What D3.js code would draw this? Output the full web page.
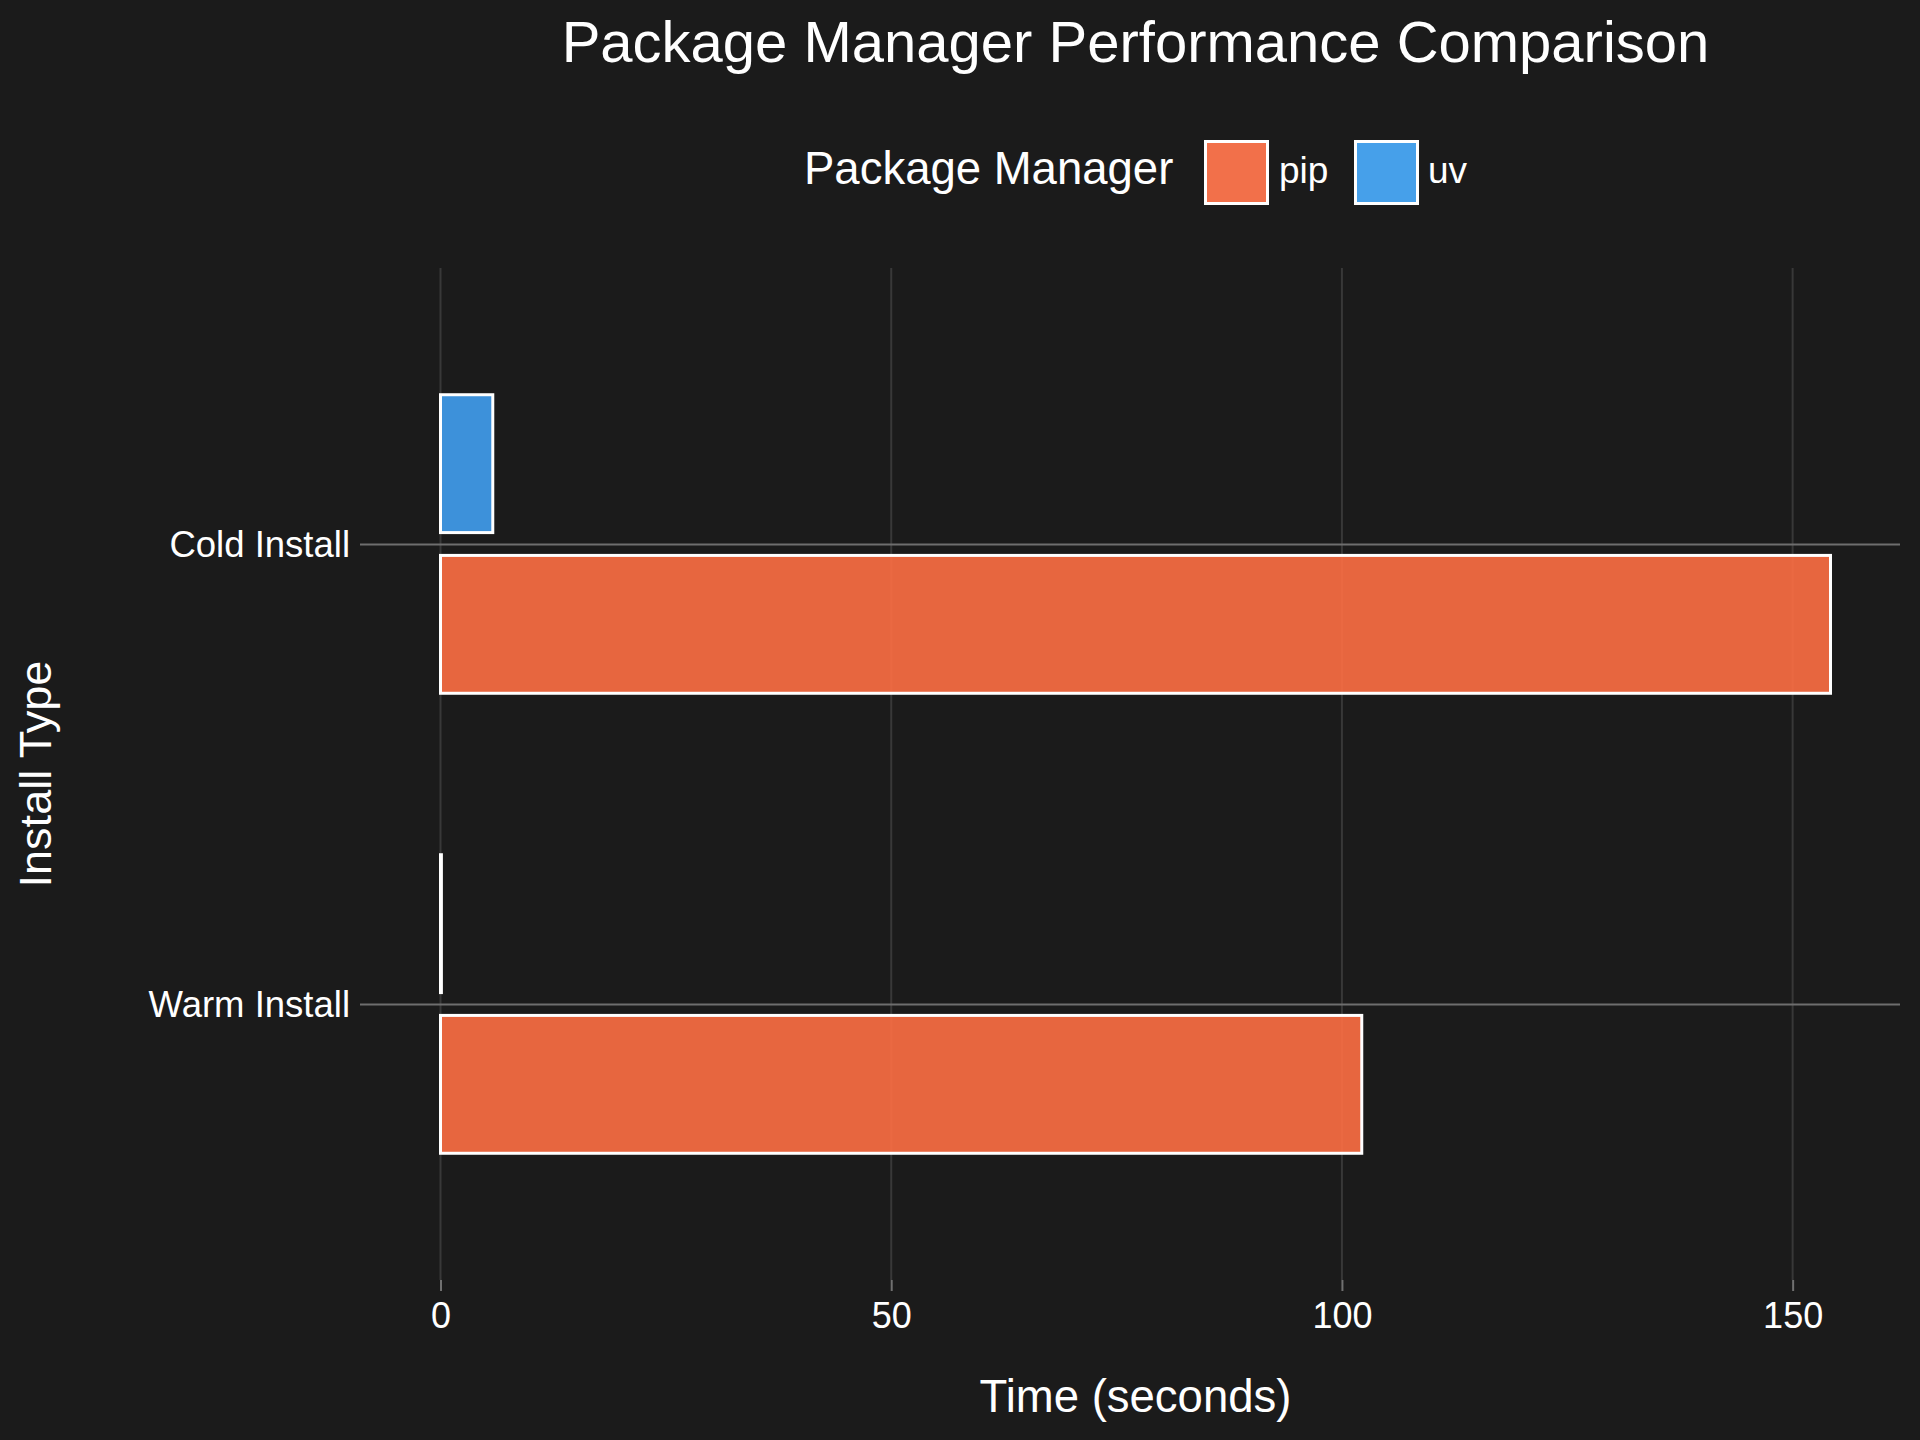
<!DOCTYPE html>
<html>
<head>
<meta charset="utf-8">
<script src="https://cdn.jsdelivr.net/npm/d3@7"></script>
<style>
  html, body { margin: 0; padding: 0; background: #1b1b1b; }
  svg { display: block; }
  text { font-family: "Liberation Sans", Arial, Helvetica, sans-serif; fill: #ffffff; }
</style>
</head>
<body>
<svg id="chart" width="1920" height="1440"></svg>
<script>
// ---- Data ----
const categories = ["Cold Install", "Warm Install"];
const managers = ["pip", "uv"];
const pipTimes = [154.2, 102.2];
const uvTimes = [5.8, 0.1];
const xTicks = [0, 50, 100, 150];

const titleText = "Package Manager Performance Comparison";
const xTitle = "Time (seconds)";
const yTitle = "Install Type";
const legendTitle = "Package Manager";

const legendColors = { pip: "#F2704A", uv: "#46A0EA" };
const barColors = { pip: "#FE6F44", uv: "#419EF0" };

const rows = [];
categories.forEach((c, i) => {
  rows.push({ cat: c, mgr: "pip", value: pipTimes[i] });
  rows.push({ cat: c, mgr: "uv", value: uvTimes[i] });
});

// ---- Layout ----
const W = 1920, H = 1440;
const plot = { left: 371, right: 1900, top: 268, bottom: 1280 };
const svg = d3.select("#chart");
svg.append("rect").attr("width", W).attr("height", H).attr("fill", "#1b1b1b");

const maxV = d3.max(rows, d => d.value);
const x = d3.scaleLinear()
  .domain([-0.05 * maxV, 1.05 * maxV])
  .range([plot.left, plot.right]);

const y = d3.scalePoint()
  .domain(categories)
  .range([plot.top, plot.bottom])
  .padding(0.6);

const half = y.step() * 0.3245;
const sub = d3.scaleBand()
  .domain(["uv", "pip"])
  .range([-half, half])
  .paddingInner(0.142);

// vertical gridlines
svg.append("g").selectAll("line").data(xTicks).join("line")
  .attr("x1", d => x(d)).attr("x2", d => x(d))
  .attr("y1", plot.top).attr("y2", plot.bottom)
  .attr("stroke", "#383838").attr("stroke-width", 2);

// x axis ticks + labels
const xAxis = d3.axisBottom(x).tickValues(xTicks).tickSize(11).tickPadding(11).tickFormat(d3.format("d"));
const gx = svg.append("g").attr("transform", `translate(0,${plot.bottom})`).call(xAxis);
gx.select(".domain").remove();
gx.selectAll(".tick line").attr("stroke", "#707070").attr("stroke-width", 2);
gx.selectAll(".tick text")
  .attr("font-size", 36).attr("fill", "#ffffff")
  .attr("font-family", "Liberation Sans, Arial, sans-serif")
  .attr("dy", null).attr("y", 48);

// horizontal category lines + y axis
const yAxis = d3.axisLeft(y).tickSize(plot.right - 360).tickPadding(12);
const gy = svg.append("g").attr("transform", `translate(${plot.right},0)`).call(yAxis);
gy.select(".domain").remove();
gy.selectAll(".tick line").attr("stroke", "#6e6e6e").attr("stroke-width", 2);
gy.selectAll(".tick text")
  .attr("font-size", 36.5).attr("fill", "#ffffff")
  .attr("font-family", "Liberation Sans, Arial, sans-serif")
  .attr("x", 350 - plot.right).attr("dy", "0.34em");

// bars
svg.append("g").selectAll("rect").data(rows).join("rect")
  .attr("x", d => x(0))
  .attr("width", d => Math.max(0, x(d.value) - x(0)))
  .attr("y", d => y(d.cat) + sub(d.mgr))
  .attr("height", sub.bandwidth())
  .attr("fill", d => barColors[d.mgr])
  .attr("fill-opacity", 0.9)
  .attr("stroke", "#ffffff")
  .attr("stroke-width", 3);

// title
svg.append("text")
  .attr("x", (plot.left + plot.right) / 2).attr("y", 62)
  .attr("text-anchor", "middle").attr("font-size", 58)
  .text(titleText);

// axis titles
svg.append("text")
  .attr("x", (plot.left + plot.right) / 2).attr("y", 1412)
  .attr("text-anchor", "middle").attr("font-size", 45.5)
  .text(xTitle);

svg.append("text")
  .attr("transform", `translate(51,${(plot.top + plot.bottom) / 2}) rotate(-90)`)
  .attr("text-anchor", "middle").attr("font-size", 45)
  .text(yTitle);

// legend
const lg = svg.append("g");
lg.append("text").attr("x", 804).attr("y", 184).attr("font-size", 45.5).text(legendTitle);
const legendItems = [
  { key: "pip", bx: 1205.5, tx: 1279 },
  { key: "uv", bx: 1355.5, tx: 1428 }
];
legendItems.forEach(it => {
  lg.append("rect")
    .attr("x", it.bx).attr("y", 141.5).attr("width", 62).attr("height", 62)
    .attr("fill", legendColors[it.key])
    .attr("stroke", "#ffffff").attr("stroke-width", 3);
  lg.append("text").attr("x", it.tx).attr("y", 183).attr("font-size", 37).text(it.key);
});
</script>
</body>
</html>
